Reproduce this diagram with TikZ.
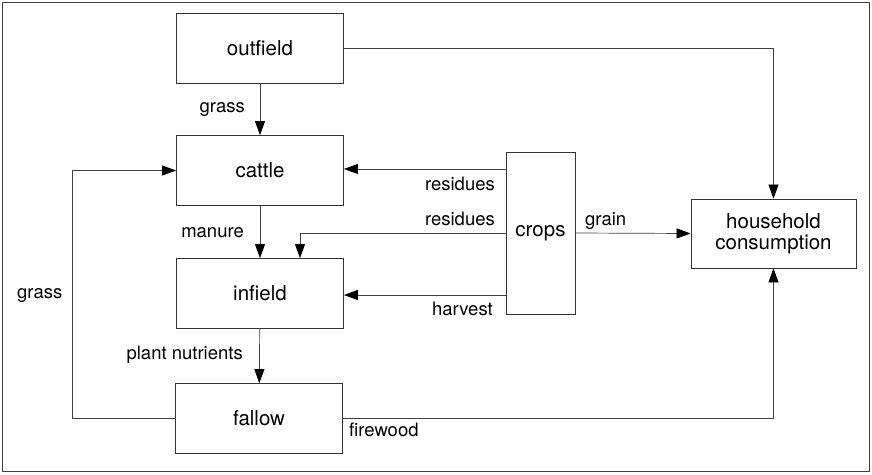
\documentclass[tikz,border=0pt]{standalone}
\usepackage{fontspec}
\setmainfont{TeX Gyre Heros}
\usepackage{tikz}
\usetikzlibrary{arrows.meta}

\begin{document}
\begin{tikzpicture}[x=1pt,y=-1pt,
  box/.style={draw=black!80,line width=0.8pt,minimum width=167pt,minimum height=70pt,inner sep=0pt,font=\fontsize{20.5}{23}\selectfont,align=center},
  flow/.style={draw=black!75,line width=0.7pt,-{Triangle[length=14pt,width=10pt,black]}},
  lab/.style={font=\fontsize{18.5}{21}\selectfont,inner sep=0pt}]
\useasboundingbox (0,0) rectangle (872,474);
\draw[black!75,line width=0.9pt] (2,2) rectangle (869,471);
\node at (260,48.5) [box] (outfield) {outfield};
\node at (260,170.5) [box] (cattle) {cattle};
\node at (260,293.5) [box] (infield) {infield};
\node at (259,418.5) [box] (fallow) {fallow};
\node at (540.5,233) [box,minimum width=69pt,minimum height=162pt] (crops) {crops};
\node at (773.5,233.5) [box,minimum width=165pt,minimum height=69pt,text width=160pt] (household) {household\\[-2pt]consumption};
\draw[flow] (outfield.east) -| (household.north);
\draw[flow] (outfield) -- (cattle);
\draw[flow] (cattle) -- (infield);
\draw[flow] (infield) -- (fallow);
\draw[flow] (crops.west |- 0,169) -- (cattle.east |- 0,169);
\draw[flow] (crops.west) -| ([xshift=40pt]infield.north);
\draw[flow] (crops.west |- 0,295) -- (infield.east |- 0,295);
\draw[flow] (crops.east) -- (household.west);
\draw[flow] (fallow.east) -| (household.south);
\draw[flow] (fallow.west) -- ++(-103,0) |- (cattle.west);
\node [lab,anchor=east] at (245,110) (grasstop) {grass};
\node [lab,anchor=east] at (244,233) (manure) {manure};
\node [lab,anchor=east] at (243,355) (nutrients) {plant nutrients};
\node [lab,anchor=east] at (495,184) (residuesA) {residues};
\node [lab,anchor=east] at (495,219) (residuesB) {residues};
\node [lab,anchor=east] at (493,309) (harvest) {harvest};
\node [lab,anchor=west] at (585,221) (grain) {grain};
\node [lab,anchor=west] at (349,430) (firewood) {firewood};
\node [lab,anchor=west] at (17,296) (grassleft) {grass};
\end{tikzpicture}
\end{document}
